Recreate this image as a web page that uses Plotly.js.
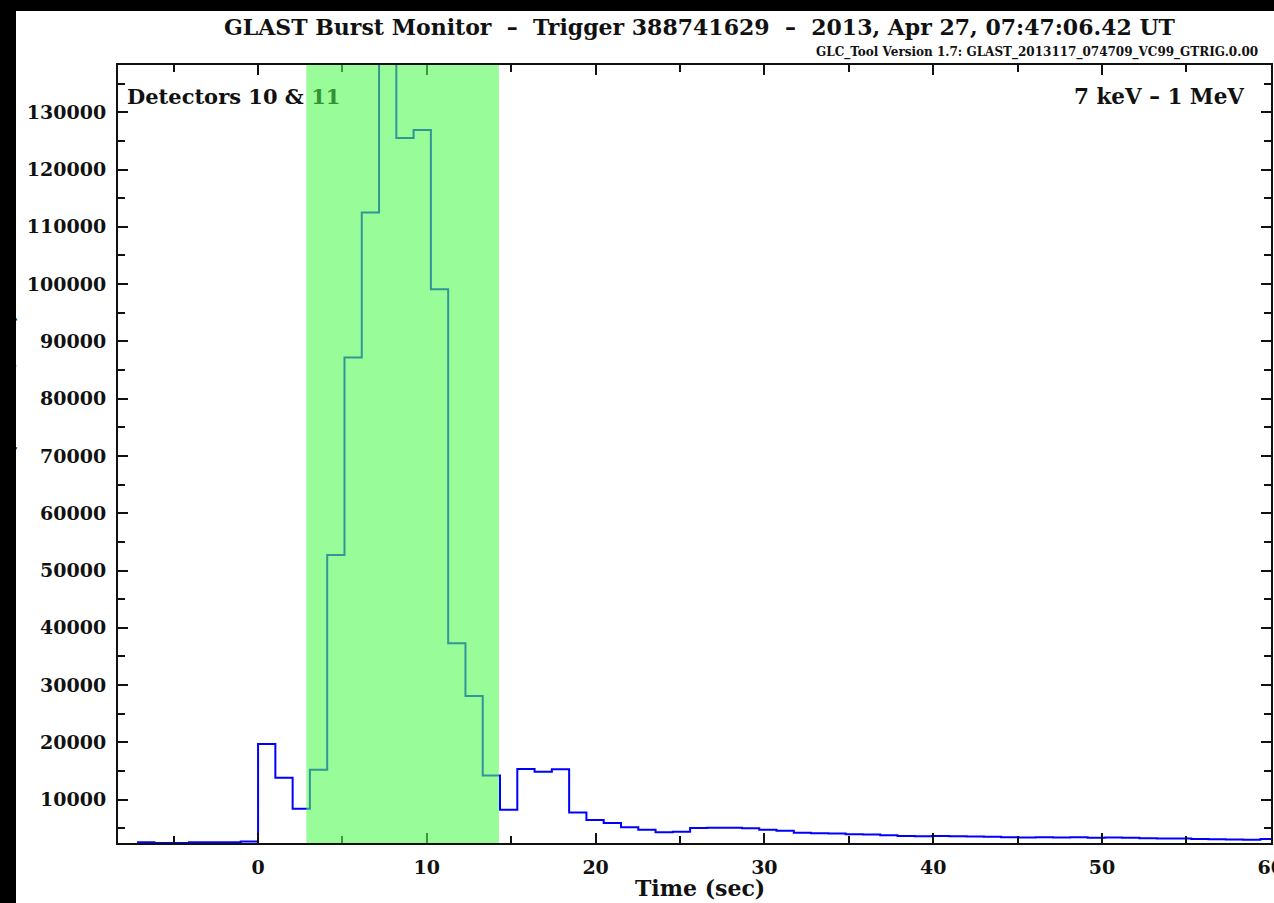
<!DOCTYPE html>
<html>
<head>
<meta charset="utf-8">
<script src="https://cdn.plot.ly/plotly-3.0.1.min.js"></script>
<style>
  html, body { margin: 0; padding: 0; background: #000; width: 1274px; height: 903px; overflow: hidden; }
  #chart { position: absolute; left: 16px; top: 11px; width: 1258px; height: 892px; overflow: hidden; }
</style>
</head>
<body>
<div id="chart"></div>
<script>
// Binned light curve, detectors 10 & 11, 1.024 s bins (bin start times, s)
const binStart = [
  -7.168, -6.144, -5.120, -4.096, -3.072, -2.048, -1.024,
   0.000,  1.024,  2.048,  3.072,  4.096,  5.120,  6.144,  7.168,
   8.192,  9.216, 10.240, 11.264, 12.288, 13.312, 14.336, 15.360,
  16.384, 17.408, 18.432, 19.456, 20.480, 21.504, 22.528, 23.552,
  24.576, 25.600, 26.624, 27.648, 28.672, 29.696, 30.720, 31.744,
  32.768, 33.792, 34.816, 35.840, 36.864, 37.888, 38.912, 39.936,
  40.960, 41.984, 43.008, 44.032, 45.056, 46.080, 47.104, 48.128,
  49.152, 50.176, 51.200, 52.224, 53.248, 54.272, 55.296, 56.320,
  57.344, 58.368, 59.392
];
const binEnd = 60.416;

// Count rate per bin (counts/sec)
const countRate = [
   2560,   2430,   2430,   2540,   2550,   2580,   2700,
  19700,  13800,   8400,  15200,  52700,  87200, 112500, 148000,
 125500, 126900,  99100,  37300,  28100,  14200,   8250,  15350,
  14850,  15300,   7750,   6450,   5900,   5200,   4750,   4300,
   4400,   5050,   5100,   5080,   5000,   4750,   4550,   4200,
   4150,   4100,   3950,   3900,   3800,   3650,   3620,   3650,
   3620,   3550,   3500,   3450,   3400,   3420,   3380,   3450,
   3350,   3400,   3350,   3250,   3200,   3200,   3150,   3100,
   3050,   3000,   3150
];

// Source time interval highlighted on the light curve (s)
const sourceInterval = [2.86, 14.27];

const xRange = [-8.3, 60.02];
const yRange = [2430, 138250];

const titleText = 'GLAST Burst Monitor\u00a0\u00a0\u2013\u00a0\u00a0Trigger 388741629\u00a0\u00a0\u2013\u00a0\u00a02013, Apr 27, 07:47:06.42 UT';
const toolText = 'GLC_Tool Version 1.7: GLAST_2013117_074709_VC99_GTRIG.0.00';
const detText = 'Detectors 10 &amp; <span style="color:rgb(48,146,48)">11</span>';
const energyText = '7 keV \u2013 1 MeV';
const xTitle = 'Time (sec)';
const yTitle = 'Count Rate (counts/sec)';

// Step outline: close the last bin at its end edge
const stepX = binStart.concat([binEnd]);
const stepY = countRate.concat([countRate[countRate.length - 1]]);

const serif = 'DejaVu Serif';
const tickFont = { family: serif, size: 19, weight: 'bold', color: '#111' };

const axisCommon = {
  showgrid: false,
  zeroline: false,
  showline: true,
  linecolor: '#111',
  linewidth: 2,
  mirror: 'ticks',
  ticks: 'inside',
  tickcolor: '#111',
  tickwidth: 2,
  ticklen: 10,
  tickfont: tickFont,
  ticklabelstandoff: 6,
  ticklabeloverflow: 'allow',
  fixedrange: true
};

const layout = {
  width: 1258,
  height: 892,
  margin: { l: 102, r: 3, t: 54, b: 60 },
  paper_bgcolor: '#ffffff',
  plot_bgcolor: '#ffffff',
  showlegend: false,
  xaxis: Object.assign({}, axisCommon, {
    range: xRange,
    tick0: 0,
    dtick: 10,
    minor: { dtick: 5, ticks: 'inside', ticklen: 7, tickcolor: '#111', tickwidth: 2 }
  }),
  yaxis: Object.assign({}, axisCommon, {
    range: yRange,
    tick0: 0,
    dtick: 10000,
    tickformat: 'd',
    minor: { dtick: 5000, ticks: 'inside', ticklen: 7, tickcolor: '#111', tickwidth: 2 }
  }),
  shapes: [
    {
      type: 'rect', layer: 'above',
      xref: 'x', yref: 'paper',
      x0: sourceInterval[0], x1: sourceInterval[1], y0: 0, y1: 1,
      fillcolor: 'rgba(83,250,83,0.6)',
      line: { width: 0 }
    }
  ],
  annotations: [
    {
      text: titleText, xref: 'paper', yref: 'paper',
      x: 0.505, y: 1.049, xanchor: 'center', yanchor: 'middle',
      showarrow: false,
      font: { family: serif, size: 22, weight: 'bold', color: '#111' }
    },
    {
      text: toolText, xref: 'paper', yref: 'paper',
      x: 0.9905, y: 1.016, xanchor: 'right', yanchor: 'middle',
      showarrow: false,
      font: { family: serif, size: 12, weight: 'bold', color: '#111' }
    },
    {
      text: detText, xref: 'paper', yref: 'paper',
      x: 0.006, y: 0.960, xanchor: 'left', yanchor: 'middle',
      showarrow: false,
      font: { family: serif, size: 21, weight: 'bold', color: '#111' }
    },
    {
      text: energyText, xref: 'paper', yref: 'paper',
      x: 0.9785, y: 0.960, xanchor: 'right', yanchor: 'middle',
      showarrow: false,
      font: { family: serif, size: 21.5, weight: 'bold', color: '#111' }
    },
    {
      text: xTitle, xref: 'paper', yref: 'paper',
      x: 0.5047, y: -0.058, xanchor: 'center', yanchor: 'middle',
      showarrow: false,
      font: { family: serif, size: 22, weight: 'bold', color: '#111' }
    },
    {
      text: yTitle, xref: 'paper', yref: 'paper',
      x: -0.0845, y: 0.5, xanchor: 'right', yanchor: 'middle',
      textangle: -90,
      showarrow: false,
      font: { family: serif, size: 21, weight: 'bold', color: '#111' }
    }
  ]
};

const traces = [
  {
    type: 'scatter',
    mode: 'lines',
    x: stepX,
    y: stepY,
    line: { shape: 'hv', color: '#0000ff', width: 2 },
    hoverinfo: 'skip'
  }
];

Plotly.newPlot('chart', traces, layout, { displayModeBar: false, staticPlot: true });
</script>
</body>
</html>
